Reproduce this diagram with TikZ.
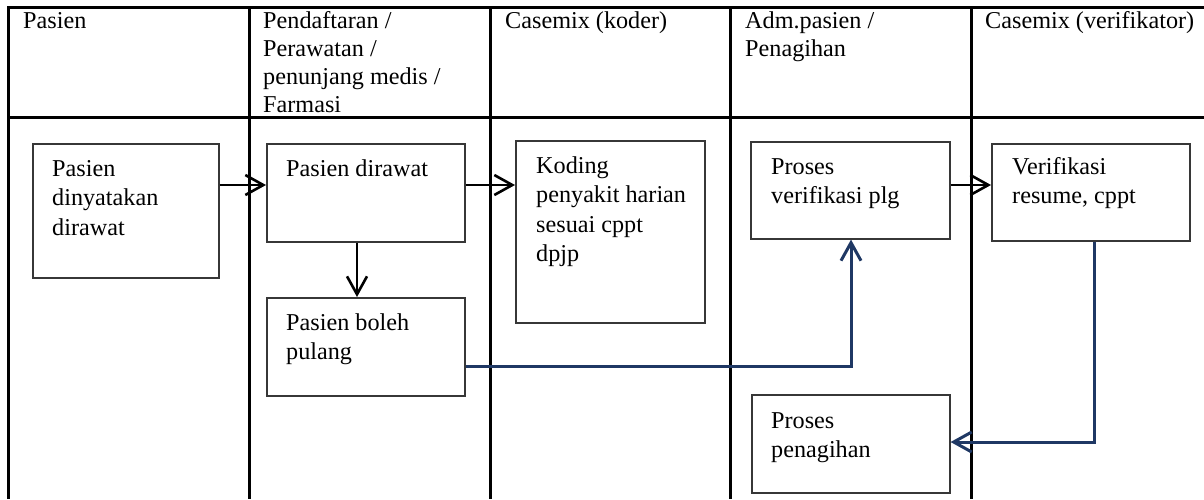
\documentclass[tikz,border=0pt]{standalone}
\usepackage{fontspec}
\setmainfont{Liberation Serif}
\usetikzlibrary{arrows.meta,calc}
\definecolor{navy}{RGB}{31,56,100}
\definecolor{boxgray}{RGB}{55,55,55}
\newcommand{\mltext}[1]{\parbox[t]{300pt}{\raggedright #1}}
\begin{document}
\begin{tikzpicture}[x=1pt,y=-1pt,
  tbl/.style={line width=3pt, black},
  box/.style={draw=boxgray, line width=1.6pt, rectangle, inner sep=0pt, anchor=north west},
  txt/.style={anchor=base west, inner sep=0pt, font=\fontsize{24.2}{29.5}\selectfont},
  hdr/.style={anchor=base west, inner sep=0pt, font=\fontsize{24.2}{28}\selectfont},
  arr/.style={line width=2.6pt, black, -{Straight Barb[length=18pt,width=20pt]}},
  barr/.style={line width=3pt, draw=navy, -{Straight Barb[length=18pt,width=20pt]}}]
\useasboundingbox (0,0) rectangle (1204,499);
% table grid
\draw[tbl] (1204,7) -- (8,7) -- (8,499);
\draw[tbl] (8,117) -- (1204,117);
\foreach \cx in {249,490,730,971} \draw[tbl] (\cx,7) -- (\cx,499);
% headers
\node[hdr] (h1) at (23,28) {\mltext{Pasien}};
\node[hdr] (h2) at (263,28) {\mltext{Pendaftaran /\\Perawatan /\\penunjang medis /\\Farmasi}};
\node[hdr] (h3) at (505,28) {\mltext{Casemix (koder)}};
\node[hdr] (h4) at (745,28) {\mltext{Adm.pasien /\\Penagihan}};
\node[hdr] (h5) at (985,28) {\mltext{Casemix (verifikator)}};
% boxes
\node[box, minimum width=186pt, minimum height=134pt] (A) at (32,143) {};
\node[box, minimum width=198pt, minimum height=98pt] (B) at (266,143) {};
\node[box, minimum width=198pt, minimum height=98pt] (C) at (266,297) {};
\node[box, minimum width=189pt, minimum height=182pt] (D) at (515,140) {};
\node[box, minimum width=199pt, minimum height=97pt] (E) at (750,141) {};
\node[box, minimum width=198pt, minimum height=97pt] (F) at (991,143) {};
\node[box, minimum width=198pt, minimum height=98pt] (G) at (751,394) {};
% box texts
\node[txt] (tA) at (52,176) {\mltext{Pasien\\dinyatakan\\dirawat}};
\node[txt] (tB) at (286,176) {\mltext{Pasien dirawat}};
\node[txt] (tC) at (286,330) {\mltext{Pasien boleh\\pulang}};
\node[txt] (tD) at (536,173) {\mltext{Koding\\penyakit harian\\sesuai cppt\\dpjp}};
\node[txt] (tE) at (771,174) {\mltext{Proses\\verifikasi plg}};
\node[txt] (tF) at (1012,174) {\mltext{Verifikasi\\resume, cppt}};
\node[txt] (tG) at (771,428) {\mltext{Proses\\penagihan}};
% helper coordinates
\coordinate (r1) at (0,185);
\coordinate (c1) at (357,0);
\coordinate (k1) at (851,366);
\coordinate (k2) at (1094,442);
% connectors
\draw[arr] (A.east |- r1) -- (B.west |- r1);
\draw[arr] (B.east |- r1) -- (D.west |- r1);
\draw[arr] (E.east |- r1) -- (F.west |- r1);
\draw[arr] (B.south -| c1) -- (C.north -| c1);
\draw[barr] (C.east |- k1) -| (E.south -| k1);
\draw[barr] (F.south -| k2) |- (G.east |- k2);
\end{tikzpicture}
\end{document}
